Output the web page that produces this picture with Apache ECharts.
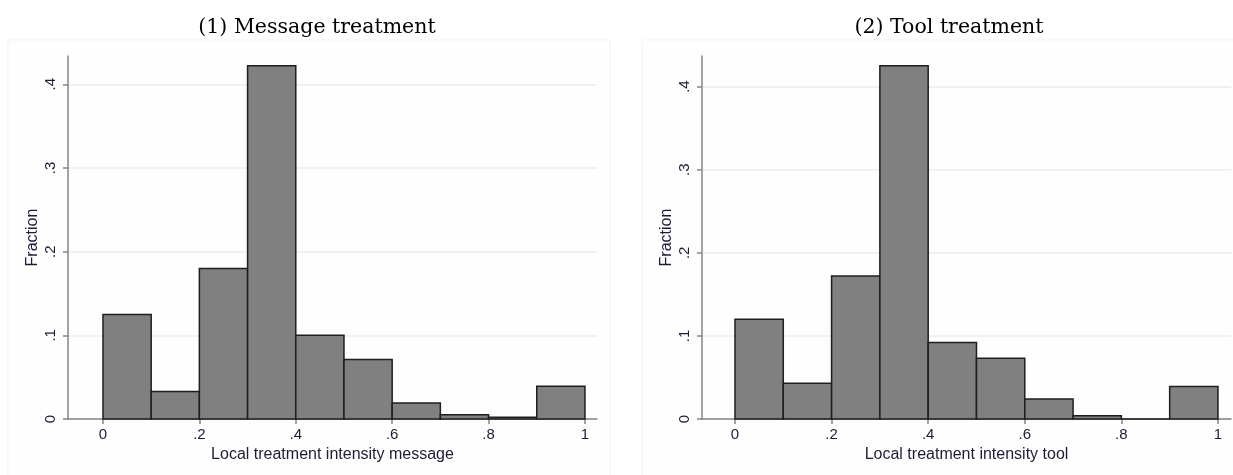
<!DOCTYPE html>
<html>
<head>
<meta charset="utf-8">
<style>
  html, body { margin: 0; padding: 0; background: #ffffff; }
  #chart { width: 1233px; height: 475px; }
</style>
<script src="https://cdn.jsdelivr.net/npm/echarts@6/dist/echarts.min.js"></script>
</head>
<body>
<div id="chart"></div>
<script>
// Histogram bins (lower edges) shared by both panels
const binEdges = [0, 0.1, 0.2, 0.3, 0.4, 0.5, 0.6, 0.7, 0.8, 0.9];
const binWidth = 0.1;

// Fraction of observations in each bin
const messageFractions = [0.125, 0.033, 0.180, 0.422, 0.100, 0.071, 0.019, 0.005, 0.002, 0.039];
const toolFractions    = [0.120, 0.043, 0.172, 0.425, 0.092, 0.073, 0.024, 0.004, 0.000, 0.039];

// Tick labels
const xTickValues = [0, 0.2, 0.4, 0.6, 0.8, 1];
const xTickLabels = ['0', '.2', '.4', '.6', '.8', '1'];
const yTickValues = [0, 0.1, 0.2, 0.3, 0.4];
const yTickLabels = ['0', '.1', '.2', '.3', '.4'];

const panelTitles = ['(1) Message treatment', '(2) Tool treatment'];
const xAxisTitles = ['Local treatment intensity message', 'Local treatment intensity tool'];
const yAxisTitle = 'Fraction';

const textColor = '#1c1c38';
const axisColor = '#858585';

function fmtX(v) {
  const i = xTickValues.findIndex(t => Math.abs(t - v) < 1e-9);
  return i >= 0 ? xTickLabels[i] : '';
}
function fmtY(v) {
  const i = yTickValues.findIndex(t => Math.abs(t - v) < 1e-9);
  return i >= 0 ? yTickLabels[i] : '';
}

function histData(fracs) {
  return binEdges.map((lo, i) => [lo, lo + binWidth, fracs[i]]);
}

function renderBin(params, api) {
  const p0 = api.coord([api.value(0), 0]);
  const p1 = api.coord([api.value(1), api.value(2)]);
  return {
    type: 'rect',
    shape: { x: p0[0], y: p1[1], width: p1[0] - p0[0], height: p0[1] - p1[1] },
    style: { fill: '#808080', stroke: '#1e1e1e', lineWidth: 1.5 }
  };
}

function makeXAxis(idx, min, max) {
  return {
    type: 'value', gridIndex: idx, min: min, max: max,
    name: xAxisTitles[idx], nameLocation: 'middle', nameGap: 24,
    nameTextStyle: { fontFamily: 'Liberation Sans', fontSize: 16, color: textColor },
    axisLine: { show: true, onZero: false, lineStyle: { color: axisColor, width: 1.5 } },
    axisTick: { show: true, length: 5, customValues: xTickValues, lineStyle: { color: axisColor, width: 1.5 } },
    axisLabel: { customValues: xTickValues, formatter: fmtX, margin: 8,
      fontFamily: 'Liberation Sans', fontSize: 15, color: textColor },
    splitLine: { show: false }
  };
}

function makeYAxis(idx, max) {
  return {
    type: 'value', gridIndex: idx, min: 0, max: max,
    name: yAxisTitle, nameLocation: 'middle', nameGap: 27, nameRotate: 90,
    nameTextStyle: { fontFamily: 'Liberation Sans', fontSize: 16, color: textColor },
    axisLine: { show: true, onZero: false, lineStyle: { color: axisColor, width: 1.5 } },
    axisTick: { show: true, length: 5, customValues: yTickValues, lineStyle: { color: axisColor, width: 1.5 } },
    axisLabel: { customValues: yTickValues, formatter: fmtY, rotate: 90, margin: 10,
      fontFamily: 'Liberation Sans', fontSize: 15, color: textColor },
    splitLine: { show: true, lineStyle: { color: '#ececec', width: 1.5 } }
  };
}

const chart = echarts.init(document.getElementById('chart'), null, { renderer: 'canvas' });

chart.setOption({
  animation: false,
  backgroundColor: '#ffffff',
  graphic: [
    { type: 'rect', z: -10, shape: { x: 8, y: 40, width: 602, height: 440 },
      style: { fill: '#fefefe', stroke: '#f3f3f3', lineWidth: 1 } },
    { type: 'rect', z: -10, shape: { x: 642, y: 40, width: 600, height: 440 },
      style: { fill: '#fefefe', stroke: '#f3f3f3', lineWidth: 1 } }
  ],
  title: [
    { text: panelTitles[0], left: 312, top: 12, textAlign: 'center',
      textStyle: { fontFamily: 'DejaVu Serif', fontSize: 20.5, fontWeight: 'normal', color: '#000' } },
    { text: panelTitles[1], left: 944, top: 12, textAlign: 'center',
      textStyle: { fontFamily: 'DejaVu Serif', fontSize: 20.5, fontWeight: 'normal', color: '#000' } }
  ],
  grid: [
    { left: 68, width: 529, top: 56, height: 363 },
    { left: 702, width: 529, top: 56, height: 363 }
  ],
  xAxis: [makeXAxis(0, -0.0726, 1.025), makeXAxis(1, -0.0683, 1.027)],
  yAxis: [makeYAxis(0, 0.4338), makeYAxis(1, 0.4368)],
  series: [
    { type: 'custom', xAxisIndex: 0, yAxisIndex: 0, data: histData(messageFractions),
      renderItem: renderBin, encode: { x: [0, 1], y: 2 }, silent: true },
    { type: 'custom', xAxisIndex: 1, yAxisIndex: 1, data: histData(toolFractions),
      renderItem: renderBin, encode: { x: [0, 1], y: 2 }, silent: true }
  ]
});
</script>
</body>
</html>
